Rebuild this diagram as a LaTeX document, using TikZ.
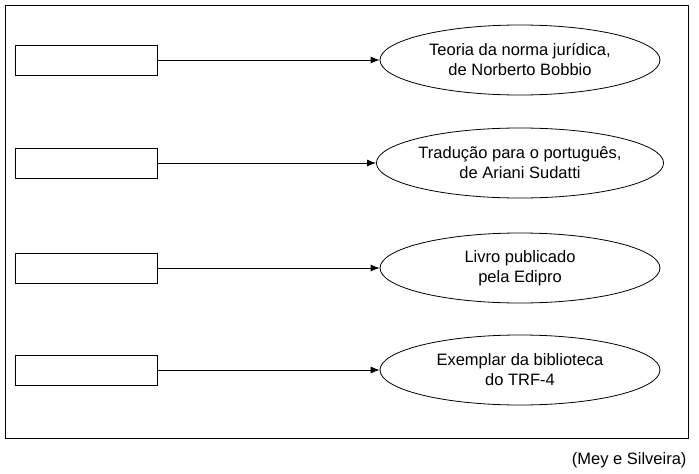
\documentclass[tikz,border=0pt]{standalone}
\usepackage{fontspec}
\setmainfont{Liberation Sans}
\usetikzlibrary{shapes.geometric,arrows.meta}
\begin{document}
\begin{tikzpicture}[x=1pt,y=-1pt,
  box/.style={draw,line width=0.8pt,minimum width=142pt,minimum height=30pt,inner sep=0pt},
  ell/.style={draw,ellipse,line width=0.8pt,minimum width=280pt,minimum height=70pt,inner sep=0pt,align=center,font=\fontsize{16.5}{20}\selectfont},
  conn/.style={draw,line width=0.8pt,-{Latex[length=9pt,width=7pt]}}]
\useasboundingbox (0,0) rectangle (699,474);
\node[draw,line width=0.8pt,minimum width=683pt,minimum height=433pt,inner sep=0pt] (frame) at (346.5,221.5) {};
\foreach \i/\y/\t in {1/60/{Teoria da norma jurídica,\\de Norberto Bobbio},
  2/163/{Tradução para o português,\\de Ariani Sudatti},
  3/268/{Livro publicado\\pela Edipro},
  4/370/{Exemplar da biblioteca\\do TRF-4}}{
  \node[box] (b\i) at (86,\y) {};
  \node[ell] (e\i) at (520,\y) {\t};
  \draw[conn] (b\i) -- (e\i);
}
\node[anchor=east,font=\fontsize{16.5}{20}\selectfont] (cap) at (690,460) {(Mey e Silveira)};
\end{tikzpicture}
\end{document}
